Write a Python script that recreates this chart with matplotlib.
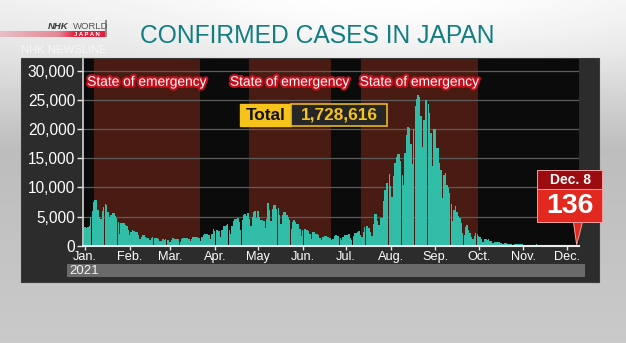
import numpy as np
import pandas as pd
import matplotlib
matplotlib.use("Agg")
import matplotlib.pyplot as plt
from matplotlib.patches import Rectangle, Polygon
import matplotlib.patheffects as pe

plt.rcParams['font.family'] = ['Liberation Sans', 'DejaVu Sans']

W, H = 626, 343

### Daily confirmed cases in Japan, Jan 1 - Dec 8 2021
jan = [3258, 3059, 3128, 3325, 4915, 6001, 7570, 7882, 7790, 6094, 4876, 4536, 5875, 6605, 7133, 7014,
       5759, 4925, 5320, 5652, 5668, 5044, 4717, 3990, 1974, 3853, 3964, 3918, 3534, 3336, 2674]
feb = [1792, 2324, 2631, 2576, 2370, 2279, 1781, 1227, 1569, 1887, 1886, 1500, 1359, 1362, 1016, 1309,
       1534, 1308, 1235, 1297, 1095, 739, 882, 1070, 1054, 1079, 997, 993]
mar = [653, 991, 1245, 1147, 1097, 1146, 1063, 601, 1120, 1317, 1283, 1320, 1294, 1172, 740, 1145,
       1525, 1483, 1486, 1468, 1273, 816, 1509, 1919, 1920, 2028, 2081, 1785, 1212, 2085, 2843]
apr = [2599, 2766, 2762, 2466, 1570, 2656, 3451, 3442, 3482, 3694, 2776, 1951, 3453, 4312, 4570, 4532,
       4802, 4092, 2677, 4332, 5291, 5499, 5119, 5606, 4610, 3316, 4847, 5789, 5918, 4677]
may = [5977, 4915, 4475, 4364, 4154, 3010, 4525, 7234, 6055, 4185, 6301, 7056, 7057, 6266, 6417, 5247,
       3677, 5224, 5700, 5736, 5237, 4985, 4400, 2780, 4112, 4350, 4140, 3700, 3660, 2838, 1740]
jun = [2642, 2946, 2810, 2645, 2598, 2000, 1234, 2272, 2265, 2001, 1951, 1879, 1387, 935, 1460, 1719,
       1735, 1560, 1553, 1308, 1000, 1186, 1618, 1810, 1735, 1620, 1268, 1034, 1416, 1754]
jul = [1754, 1821, 1979, 1313, 975, 1699, 2191, 2241, 2301, 2446, 1914, 1504, 2386, 3194, 3434, 3412,
       3103, 2329, 1675, 3758, 5396, 5397, 4225, 3574, 4692, 4689, 7629, 9576, 10699, 10743, 12341]
aug = [10168, 8393, 12016, 14207, 15263, 15753, 15753, 14472, 12076, 10410, 15812, 18889, 20366, 20151,
       17490, 14003, 19955, 23917, 25156, 25876, 25492, 22229, 16832, 21592, 24980, 24909, 24269, 22749,
       19301, 13653, 20010]
sep = [20032, 16761, 16753, 14179, 12920, 8236, 12148, 12395, 10389, 9919, 9019, 7216, 4171, 6034, 6790,
       5802, 5105, 4735, 3954, 2226, 1853, 3258, 3580, 2727, 2117, 1572, 1127, 1734, 2216, 1985]
oct_ = [1587, 1444, 1117, 619, 1144, 1130, 1000, 1064, 767, 722, 379, 622, 719, 625, 612, 505, 429, 232,
        395, 416, 362, 322, 318, 290, 154, 255, 301, 271, 285, 268, 206]
nov = [86, 134, 167, 142, 199, 194, 162, 104, 106, 229, 173, 167, 176, 108, 78, 127, 171, 131, 140, 147,
       121, 50, 73, 130, 134, 123, 116, 80, 67, 86]
dec = [104, 124, 120, 115, 121, 101, 79, 136]

month_labels = ["Jan.", "Feb.", "Mar.", "Apr.", "May", "Jun.", "Jul.", "Aug.", "Sep.", "Oct.", "Nov.", "Dec."]
emergency = [("2021-01-08", "2021-03-21"), ("2021-04-25", "2021-06-20"), ("2021-07-12", "2021-09-30")]
y_ticks = [0, 5000, 10000, 15000, 20000, 25000, 30000]
total_cases = "1,728,616"

cases = np.array(jan + feb + mar + apr + may + jun + jul + aug + sep + oct_ + nov + dec)
dates = pd.date_range("2021-01-01", periods=len(cases), freq="D")
days = np.arange(len(cases))


def px(x, y):
    # pixel position (from top-left) -> figure fraction
    return x / W, 1 - y / H


def day_of(d):
    return (pd.Timestamp(d) - dates[0]).days


fig = plt.figure(figsize=(W / 100, H / 100), dpi=100)

### background
bg = fig.add_axes([0, 0, 1, 1])
yy, xx = np.mgrid[0:H, 0:W]
shade = np.interp(yy, [0, 55, 150, 343], [0.93, 0.88, 0.74, 0.79])
shade = shade + 0.07 * np.exp(-(((xx - 380) / 280) ** 2 + ((yy - 15) / 70) ** 2))
bg.imshow(np.clip(shade, 0, 1), cmap='gray', vmin=0, vmax=1, extent=[0, 1, 0, 1], aspect='auto')
bg.set_xlim(0, 1)
bg.set_ylim(0, 1)
bg.axis('off')

# dark panel and year strip
fig.patches.append(Rectangle(px(21, 282), 578 / W, 224 / H, transform=fig.transFigure,
                             facecolor='#2c2c2c', edgecolor='#3a3a3a', lw=0.8, zorder=1))
fig.patches.append(Rectangle(px(66.5, 277), 518.5 / W, 13.5 / H, transform=fig.transFigure,
                             facecolor='#6a6a6a', zorder=2))
fig.text(*px(69, 270.5), str(dates[0].year), fontsize=9.5, color='#f2f2f2', va='center', ha='left', zorder=3)

### header
fig.text(*px(140, 43.3), "CONFIRMED CASES IN JAPAN", fontsize=17.7, color='#127e82', va='baseline', ha='left')
fig.text(*px(48.3, 29.3), "NHK", fontsize=6.8, fontweight='bold', style='italic', color='#3a3a3a', va='baseline')
fig.text(*px(73.3, 29.3), "WORLD", fontsize=6.8, color='#555555', va='baseline')
red = fig.add_axes([0, 1 - 36.7 / H, 106.7 / W, 5.7 / H])
t = np.linspace(0, 1, 256)
ramp = np.zeros((1, 256, 4))
ramp[..., 0], ramp[..., 1], ramp[..., 2] = 0.88, 0.13, 0.24
ramp[..., 3] = np.interp(t, [0, 0.55, 0.7, 1], [0.2, 0.5, 1, 1])
red.imshow(ramp, aspect='auto', extent=[0, 1, 0, 1])
red.axis('off')
fig.text(*px(87, 34), "J A P A N", fontsize=4.3, fontweight='bold', color='white', ha='center', va='center')
fig.patches.append(Rectangle(px(105, 37), 2.3 / W, 17 / H, transform=fig.transFigure,
                             facecolor='#8c8c8c', zorder=2))
fig.text(*px(107, 52.7), "NHK NEWSLINE", fontsize=8.2, color='#f6f6f6', ha='right', va='baseline')

### chart
ax = fig.add_axes([83.3 / W, 1 - 245.7 / H, 495.7 / W, 186.7 / H])
ax.set_facecolor('#0b0b0b')
ax.set_zorder(3)

for start, end in emergency:
    ax.axvspan(day_of(start) - 0.5, day_of(end) + 0.5, color='#4a1b12', lw=0, zorder=0.2)
    ax.text((day_of(start) + day_of(end)) / 2, 28100, "State of emergency", fontsize=9.9, color='white',
            ha='center', va='center', zorder=5,
            path_effects=[pe.withStroke(linewidth=3, foreground='#c4101d')])

ax.bar(days, cases, width=0.95, color='#31bda7', lw=0, zorder=2)

ax.set_xlim(-1.2, 342.6)
ax.set_ylim(0, 32000)
ax.set_axisbelow(True)
ax.yaxis.grid(True, color='#5c5c5c', lw=0.9)

ax.set_xticks([day_of(f"2021-{m:02d}-01") for m in range(1, 13)])
ax.set_xticklabels(month_labels)
ax.set_yticks(y_ticks)
ax.set_yticklabels([f"{v:,}" for v in y_ticks])
ax.tick_params(axis='x', colors='#e6e6e6', length=3, width=1, pad=0.8, labelsize=9.2)
ax.tick_params(axis='y', colors='#e6e6e6', length=4, width=1, pad=1.8, labelsize=11.2)
for lab in ax.get_xticklabels() + ax.get_yticklabels():
    lab.set_color('white')
for s in ['top', 'right']:
    ax.spines[s].set_visible(False)
ax.spines['left'].set_color('#d6d6d6')
ax.spines['left'].set_linewidth(1.2)
ax.spines['bottom'].set_color('#ececec')
ax.spines['bottom'].set_linewidth(1.5)

### Total box
fig.patches.append(Rectangle(px(240, 126), 51 / W, 22 / H, transform=fig.transFigure,
                             facecolor='#f6c31d', edgecolor='#f6c31d', lw=1, zorder=6))
fig.patches.append(Rectangle(px(291, 126), 96 / W, 22 / H, transform=fig.transFigure,
                             facecolor='#262626', edgecolor='#e9b81c', lw=1.2, zorder=6))
fig.text(*px(265.5, 115.5), "Total", fontsize=12.4, fontweight='bold', color='#111111',
         ha='center', va='center', zorder=7)
fig.text(*px(339, 115.5), total_cases, fontsize=12.4, fontweight='bold', color='#f6c31d',
         ha='center', va='center', zorder=7)

### latest-day callout
tip = fig.transFigure.inverted().transform(ax.transData.transform((days[-1], cases[-1])))
fig.patches.append(Polygon([px(573.3, 221), px(582.7, 221), tip], closed=True, transform=fig.transFigure,
                           facecolor='#e2281f', edgecolor='#f2a0a0', lw=0.7, zorder=8))
fig.patches.append(Rectangle(px(537.3, 221.7), 65 / W, 32.4 / H, transform=fig.transFigure,
                             facecolor='#e2281f', edgecolor='#f2a0a0', lw=0.7, zorder=8))
fig.patches.append(Rectangle(px(537.3, 189.3), 65 / W, 19.3 / H, transform=fig.transFigure,
                             facecolor='#9c0b10', edgecolor='#f2a0a0', lw=0.7, zorder=8))
fig.text(*px(570, 179.5), f"Dec. {dates[-1].day}", fontsize=10, fontweight='bold', color='white',
         ha='center', va='center', zorder=9)
fig.text(*px(570, 206.3), f"{cases[-1]:,}", fontsize=20.5, fontweight='bold', color='white',
         ha='center', va='center', zorder=9)

fig.savefig('out.png', dpi=100)
